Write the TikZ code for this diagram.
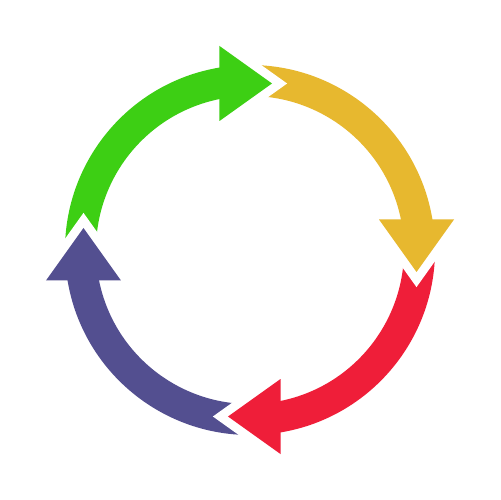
\documentclass[tikz,border=0pt]{standalone}
\definecolor{cgreen}{RGB}{61,207,20}
\definecolor{cyellow}{RGB}{231,184,47}
\definecolor{cred}{RGB}{239,30,57}
\definecolor{cblue}{RGB}{83,79,144}
\tikzset{
  gap/.style={draw=white,line width=10,line join=miter,miter limit=10},
}
\newcommand{\bandpath}{(185:185) arc[start angle=185,end angle=99.33,radius=185] -- (-30,151.05) arc[start angle=101.23,end angle=185,radius=154] -- cycle}
\begin{document}
\begin{tikzpicture}[x=0.02cm,y=0.02cm]
\useasboundingbox[fill=white] (-250,-250) rectangle (250,250);
% bands
\begin{scope}[rotate=0]\fill[cgreen] \bandpath;\end{scope}
\begin{scope}[rotate=-90]\fill[cyellow] \bandpath;\end{scope}
\begin{scope}[rotate=-180]\fill[cred] \bandpath;\end{scope}
\begin{scope}[rotate=-270]\fill[cblue] \bandpath;\end{scope}
% heads
\foreach \ang/\col in {0/cgreen,-90/cyellow,-180/cred,-270/cblue}{
  \begin{scope}[rotate=\ang]
    \coordinate (hb1) at (-30.5,204);
    \coordinate (ht) at (22,166.5);
    \coordinate (hb2) at (-30.5,129);
    \draw[gap] (hb1) -- (ht) -- (hb2);
    \fill[\col] (hb1) -- (ht) -- (hb2) -- cycle;
  \end{scope}
}
\end{tikzpicture}
\end{document}
